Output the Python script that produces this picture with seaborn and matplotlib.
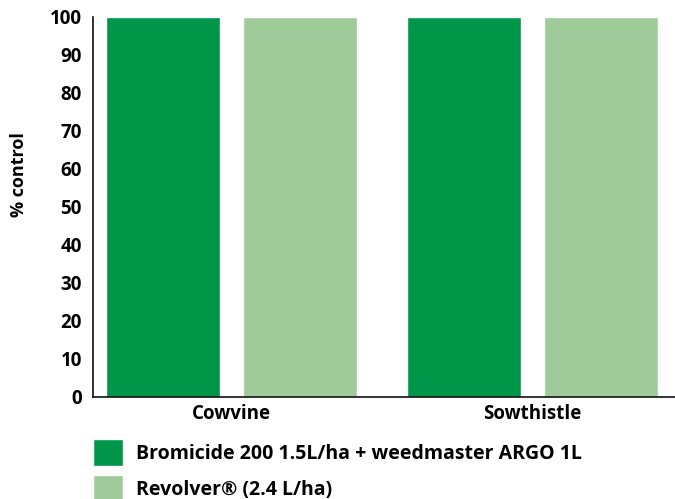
import matplotlib
matplotlib.use("Agg")
import matplotlib.pyplot as plt
import seaborn as sns
import pandas as pd

weeds = ["Cowvine", "Sowthistle"]
treatments = ["Bromicide 200 1.5L/ha + weedmaster ARGO 1L", "Revolver® (2.4 L/ha)"]
bromicide_values = [100, 100]
revolver_values = [100, 100]
yticks = [0, 10, 20, 30, 40, 50, 60, 70, 80, 90, 100]

df = pd.DataFrame({
    "weed": weeds * 2,
    "treatment": [treatments[0]] * 2 + [treatments[1]] * 2,
    "control": bromicide_values + revolver_values,
})

sns.set_style("white")
plt.rcParams["font.family"] = ["Open Sans", "DejaVu Sans"]
plt.rcParams["font.weight"] = "bold"
for k in ["text.color", "axes.labelcolor", "xtick.color", "ytick.color"]:
    plt.rcParams[k] = "black"

fig = plt.figure(figsize=(6.75, 4.99), dpi=100)
ax = fig.add_axes([93 / 675, 1 - 397 / 499, 1 - 93 / 675, (397 - 17) / 499])

sns.barplot(data=df, x="weed", y="control", hue="treatment",
            palette=["#00964A", "#9ECB99"], width=0.91, gap=0.167,
            saturation=1, ax=ax, errorbar=None)

ax.set_ylim(0, 100)
ax.set_xlim((93 - 231.5) / 301, (675 - 231.5) / 301)
ax.set_yticks(yticks)
ax.tick_params(axis="both", length=0, labelsize=13.5, pad=8)
ax.tick_params(axis="x", pad=5)
for lab in ax.get_xticklabels() + ax.get_yticklabels():
    lab.set_fontweight("bold")
ax.set_xlabel("")
ax.set_ylabel("% control", fontsize=13, fontweight="bold")
ax.yaxis.set_label_coords(-0.112, 0.585)
for s in ["top", "right"]:
    ax.spines[s].set_visible(False)
for s in ["left", "bottom"]:
    ax.spines[s].set_color("#111111")
    ax.spines[s].set_linewidth(1.2)

handles, labels = ax.get_legend_handles_labels()
ax.legend(handles, labels, loc="upper left", bbox_to_anchor=(0, -0.11),
          frameon=False, prop={"weight": "bold", "size": 14},
          handlelength=1.55, handleheight=1.8, labelspacing=0.45,
          handletextpad=0.67, borderaxespad=0, borderpad=0)

fig.savefig("out.png", dpi=100)
